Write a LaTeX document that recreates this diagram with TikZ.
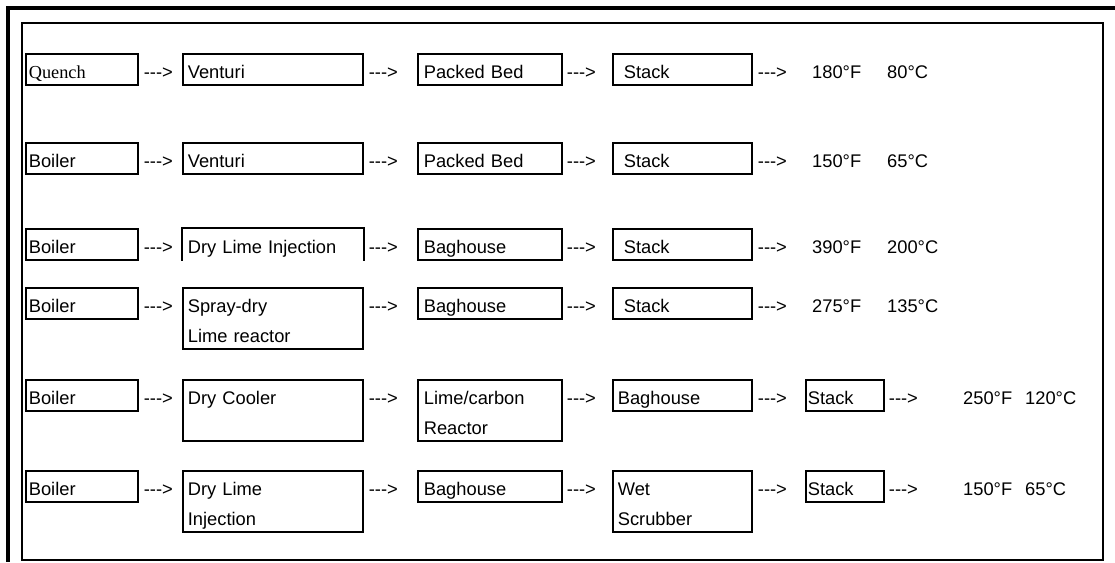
\documentclass[tikz,border=0pt]{standalone}
\usepackage{fontspec}
\setmainfont{Liberation Sans}
\newfontfamily\serifrm{Liberation Serif}

% the dashed arrow between the units, kept apart so no dash ligature forms
\newcommand\dasharr{\mbox{-}\mbox{-}\mbox{-}\mbox{>}}

\tikzset{blk/.style={draw,line width=1.7pt,anchor=north west,inner ysep=0pt,align=left,text height=25pt,text depth=6pt}}
\tikzset{tall/.style={text depth=36pt}}
\tikzset{colA/.style={inner xsep=3pt,text width=106pt}}
\tikzset{colB/.style={inner xsep=5pt,text width=170pt}}
\tikzset{colC/.style={inner xsep=6pt,text width=132pt}}
\tikzset{colD/.style={inner xsep=5pt,text width=129pt}}
\tikzset{colDs/.style={inner xsep=11pt,text width=117pt}}
\tikzset{colE/.style={inner xsep=2pt,text width=74pt}}
\tikzset{arr/.style={anchor=base west,inner sep=0pt}}
\tikzset{deg/.style={anchor=base west,inner sep=0pt}}

\begin{document}
\begin{tikzpicture}[x=1pt,y=-1pt,font=\fontsize{18.3}{30}\selectfont]
        \useasboundingbox (0,0) rectangle (1115,562);
        % frames
        \draw[line width=3.5pt] (1115,8) -- (8,8) -- (8,562);
        \draw[line width=1.4pt] (22,23) rectangle (1103,560);
        % where the temperatures go
        \coordinate (tF) at (812,0);
        \coordinate (tC) at (887,0);
        \coordinate (tFw) at (963,0);
        \coordinate (tCw) at (1025,0);

        % quench - venturi - packed bed
        \node[blk,colA] (r1c1) at (25,53) {\serifrm Quench};
        \node[arr] (r1a1) at ([xshift=5pt]r1c1.base east) {\dasharr};
        \node[blk,colB] (r1c2) at (182,53) {Venturi};
        \node[arr] (r1a2) at ([xshift=5pt]r1c2.base east) {\dasharr};
        \node[blk,colC] (r1c3) at (417,53) {Packed Bed};
        \node[arr] (r1a3) at ([xshift=4pt]r1c3.base east) {\dasharr};
        \node[blk,colDs] (r1c4) at (612,53) {Stack};
        \node[arr] (r1a4) at ([xshift=5pt]r1c4.base east) {\dasharr};
        \node[deg] (r1f) at (tF |- r1a4.base) {180°F};
        \node[deg] (r1c) at (tC |- r1a4.base) {80°C};

        % boiler - venturi - packed bed
        \node[blk,colA] (r2c1) at (25,142) {Boiler};
        \node[arr] (r2a1) at ([xshift=5pt]r2c1.base east) {\dasharr};
        \node[blk,colB] (r2c2) at (182,142) {Venturi};
        \node[arr] (r2a2) at ([xshift=5pt]r2c2.base east) {\dasharr};
        \node[blk,colC] (r2c3) at (417,142) {Packed Bed};
        \node[arr] (r2a3) at ([xshift=4pt]r2c3.base east) {\dasharr};
        \node[blk,colDs] (r2c4) at (612,142) {Stack};
        \node[arr] (r2a4) at ([xshift=5pt]r2c4.base east) {\dasharr};
        \node[deg] (r2f) at (tF |- r2a4.base) {150°F};
        \node[deg] (r2c) at (tC |- r2a4.base) {65°C};

        % dry lime injection (box left open at the bottom)
        \node[blk,colA] (r3c1) at (25,228) {Boiler};
        \node[arr] (r3a1) at ([xshift=5pt]r3c1.base east) {\dasharr};
        \node[blk,colB,draw=none] (r3c2) at (182,228) {Dry Lime Injection};
        \draw[line width=1.7pt] (r3c2.south west) -- (r3c2.north west) -- (r3c2.north east) -- (r3c2.south east);
        \node[arr] (r3a2) at ([xshift=5pt]r3c2.base east) {\dasharr};
        \node[blk,colC] (r3c3) at (417,228) {Baghouse};
        \node[arr] (r3a3) at ([xshift=4pt]r3c3.base east) {\dasharr};
        \node[blk,colDs] (r3c4) at (612,228) {Stack};
        \node[arr] (r3a4) at ([xshift=5pt]r3c4.base east) {\dasharr};
        \node[deg] (r3f) at (tF |- r3a4.base) {390°F};
        \node[deg] (r3c) at (tC |- r3a4.base) {200°C};

        % spray-dry
        \node[blk,colA] (r4c1) at (25,287) {Boiler};
        \node[arr] (r4a1) at ([xshift=5pt]r4c1.base east) {\dasharr};
        \node[blk,colB,tall] (r4c2) at (182,287) {Spray-dry\\Lime reactor};
        \node[arr] (r4a2) at ([xshift=5pt]r4c2.base east) {\dasharr};
        \node[blk,colC] (r4c3) at (417,287) {Baghouse};
        \node[arr] (r4a3) at ([xshift=4pt]r4c3.base east) {\dasharr};
        \node[blk,colDs] (r4c4) at (612,287) {Stack};
        \node[arr] (r4a4) at ([xshift=5pt]r4c4.base east) {\dasharr};
        \node[deg] (r4f) at (tF |- r4a4.base) {275°F};
        \node[deg] (r4c) at (tC |- r4a4.base) {135°C};

        % dry cooler + lime/carbon
        \node[blk,colA] (r5c1) at (25,379) {Boiler};
        \node[arr] (r5a1) at ([xshift=5pt]r5c1.base east) {\dasharr};
        \node[blk,colB,tall] (r5c2) at (182,379) {Dry Cooler};
        \node[arr] (r5a2) at ([xshift=5pt]r5c2.base east) {\dasharr};
        \node[blk,colC,tall] (r5c3) at (417,379) {Lime/carbon\\Reactor};
        \node[arr] (r5a3) at ([xshift=4pt]r5c3.base east) {\dasharr};
        \node[blk,colD] (r5c4) at (612,379) {Baghouse};
        \node[arr] (r5a4) at ([xshift=5pt]r5c4.base east) {\dasharr};
        \node[blk,colE] (r5c5) at (805,379) {Stack};
        \node[arr] (r5a5) at ([xshift=4pt]r5c5.base east) {\dasharr};
        \node[deg] (r5f) at (tFw |- r5a5.base) {250°F};
        \node[deg] (r5c) at (tCw |- r5a5.base) {120°C};

        % dry lime + wet scrubber
        \node[blk,colA] (r6c1) at (25,470) {Boiler};
        \node[arr] (r6a1) at ([xshift=5pt]r6c1.base east) {\dasharr};
        \node[blk,colB,tall] (r6c2) at (182,470) {Dry Lime\\Injection};
        \node[arr] (r6a2) at ([xshift=5pt]r6c2.base east) {\dasharr};
        \node[blk,colC] (r6c3) at (417,470) {Baghouse};
        \node[arr] (r6a3) at ([xshift=4pt]r6c3.base east) {\dasharr};
        \node[blk,colD,tall] (r6c4) at (612,470) {Wet\\Scrubber};
        \node[arr] (r6a4) at ([xshift=5pt]r6c4.base east) {\dasharr};
        \node[blk,colE] (r6c5) at (805,470) {Stack};
        \node[arr] (r6a5) at ([xshift=4pt]r6c5.base east) {\dasharr};
        \node[deg] (r6f) at (tFw |- r6a5.base) {150°F};
        \node[deg] (r6c) at (tCw |- r6a5.base) {65°C};
\end{tikzpicture}
\end{document}
